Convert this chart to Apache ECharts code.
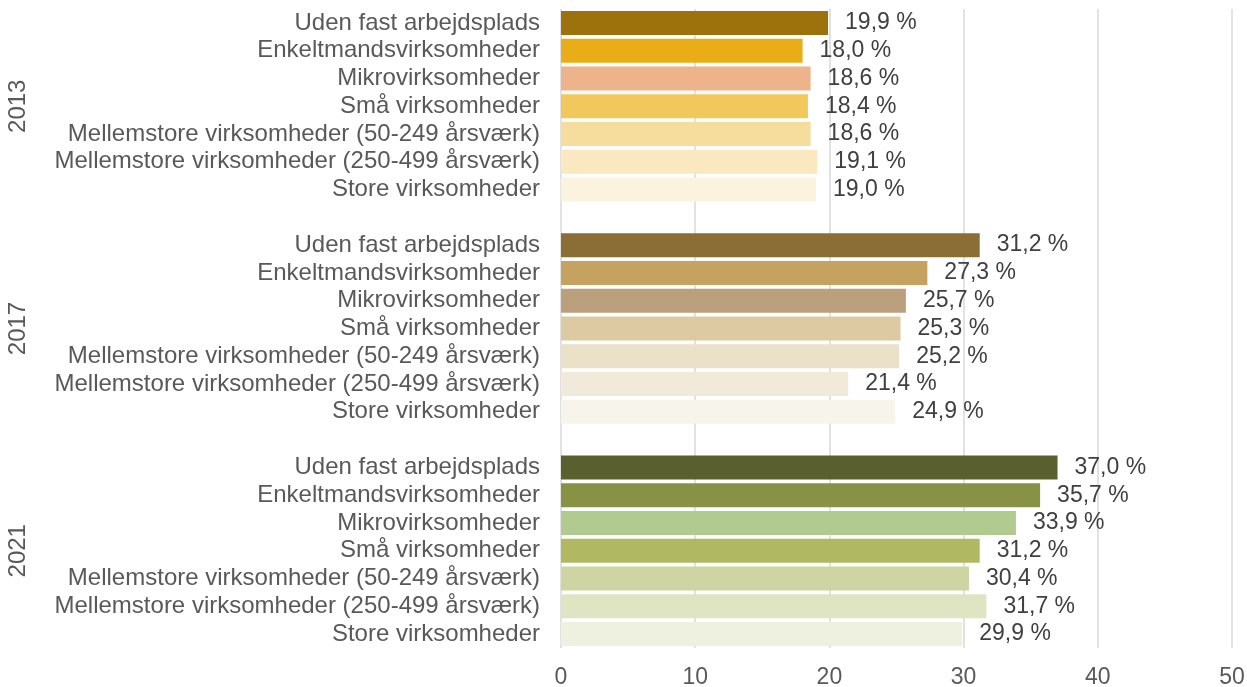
<!DOCTYPE html>
<html>
<head>
<meta charset="utf-8">
<script src="https://cdn.jsdelivr.net/npm/echarts@6/dist/echarts.min.js"></script>
<style>
html,body{margin:0;padding:0;background:#fff;}
#chart{width:1247px;height:687px;}
</style>
</head>
<body>
<div id="chart"></div>
<script>
var categories = [
  'Uden fast arbejdsplads',
  'Enkeltmandsvirksomheder',
  'Mikrovirksomheder',
  'Små virksomheder',
  'Mellemstore virksomheder (50-249 årsværk)',
  'Mellemstore virksomheder (250-499 årsværk)',
  'Store virksomheder'
];
var years = ['2013', '2017', '2021'];
var values2013 = [19.9, 18.0, 18.6, 18.4, 18.6, 19.1, 19.0];
var values2017 = [31.2, 27.3, 25.7, 25.3, 25.2, 21.4, 24.9];
var values2021 = [37.0, 35.7, 33.9, 31.2, 30.4, 31.7, 29.9];
var colors2013 = ['#9D720C', '#E8AD17', '#EDB38B', '#F2C85C', '#F6DC9D', '#FAE8C1', '#FCF3DE'];
var colors2017 = ['#8B6E35', '#C5A25F', '#BBA07D', '#DDCAA3', '#EBE0C8', '#F1E9DA', '#F7F4EC'];
var colors2021 = ['#5A602D', '#899244', '#B0CA8F', '#B0B862', '#CED5A3', '#DFE4C2', '#EEF0E0'];
var xTicks = { min: 0, max: 50, interval: 10 };

var groups = [
  { year: years[0], values: values2013, colors: colors2013 },
  { year: years[1], values: values2017, colors: colors2017 },
  { year: years[2], values: values2021, colors: colors2021 }
];

var rowLabels = [], yearLabels = [], barData = [];
groups.forEach(function (g, gi) {
  if (gi > 0) {
    rowLabels.push(' ' + gi);
    yearLabels.push(' ' + gi);
    barData.push({ value: '-' });
  }
  categories.forEach(function (c, ci) {
    rowLabels.push(c + '|' + g.year);
    yearLabels.push(ci === 3 ? g.year : ('_' + g.year + ci));
    barData.push({ value: g.values[ci], itemStyle: { color: g.colors[ci] } });
  });
});

var FONT = '"Liberation Sans", Arial, sans-serif';
var chart = echarts.init(document.getElementById('chart'), null, { renderer: 'canvas' });
chart.setOption({
  animation: false,
  backgroundColor: '#ffffff',
  grid: { left: 561, right: 15, top: 9, bottom: 39, containLabel: false, outerBoundsMode: 'none' },
  xAxis: {
    type: 'value',
    min: xTicks.min, max: xTicks.max, interval: xTicks.interval,
    axisLine: { show: false },
    axisTick: { show: false },
    splitLine: { show: true, lineStyle: { color: '#d9d9d9', width: 1.5 } },
    axisLabel: { color: '#595959', fontSize: 23, fontFamily: FONT, margin: 18 }
  },
  yAxis: [
    {
      type: 'category',
      inverse: true,
      data: rowLabels,
      axisLine: { show: false },
      axisTick: { show: false },
      axisLabel: {
        color: '#595959', fontSize: 24, fontFamily: FONT, margin: 21,
        interval: 0, padding: [4, 0, 0, 0],
        formatter: function (v) { return v.charAt(0) === ' ' ? '' : v.split('|')[0]; }
      }
    },
    {
      type: 'category',
      inverse: true,
      position: 'left',
      data: yearLabels,
      axisLine: { show: false },
      axisTick: { show: false },
      axisLabel: {
        color: '#595959', fontSize: 24, fontFamily: FONT, margin: 531,
        rotate: 90, interval: 0,
        formatter: function (v) { return /^\d{4}$/.test(v) ? v : ''; }
      }
    }
  ],
  series: [{
    type: 'bar',
    yAxisIndex: 0,
    data: barData,
    barWidth: 24,
    label: {
      show: true,
      position: 'right',
      distance: 17,
      color: '#404040',
      fontSize: 23,
      fontFamily: FONT,
      padding: [4, 0, 0, 0],
      formatter: function (p) { return p.value.toFixed(1).replace('.', ',') + ' %'; }
    }
  }]
});
</script>
</body>
</html>
